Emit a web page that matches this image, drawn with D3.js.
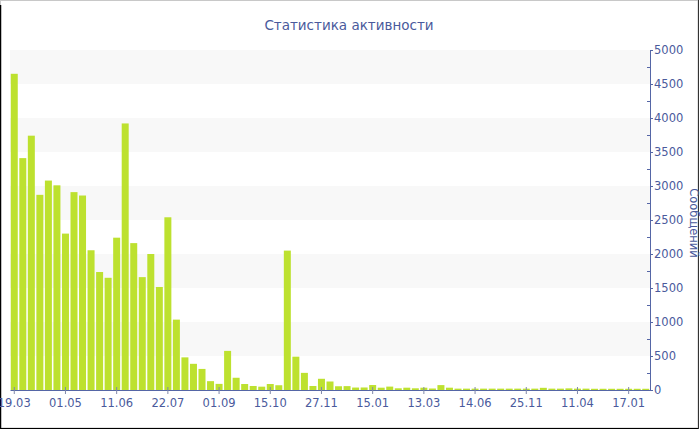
<!DOCTYPE html>
<html>
<head>
<meta charset="utf-8">
<script src="https://cdn.jsdelivr.net/npm/d3@7/dist/d3.min.js"></script>
<style>
  html, body { margin: 0; padding: 0; background: #fff; }
  svg { display: block; }
  text { font-family: "DejaVu Sans", Verdana, sans-serif; }
</style>
</head>
<body>
<svg id="chart" width="700" height="430"></svg>
<script>
const title = "Статистика активности";
const yTitle = "Сообщений";
const tickLabels = ["19.03", "01.05", "11.06", "22.07", "01.09", "15.10", "27.11",
                    "15.01", "13.03", "14.06", "25.11", "11.04", "17.01"];
const tickEvery = 6;
const values = [
  4650, 3410, 3740, 2870, 3080, 3010, 2300, 2910, 2860, 2055,
  1735, 1650, 2240, 3920, 2160, 1660, 2000, 1515, 2540, 1035,
  480, 385, 310, 130, 90, 575, 180, 88, 59, 49,
  88, 70, 2050, 490, 252, 59, 165, 125, 55, 57,
  36, 37, 73, 34, 50, 25, 34, 25, 34, 22,
  72, 34, 20, 20, 20, 20, 20, 20, 20, 20,
  20, 20, 32, 20, 20, 24, 20, 20, 18, 18,
  18, 18, 18, 18, 18
];
const yTicks = [0, 500, 1000, 1500, 2000, 2500, 3000, 3500, 4000, 4500, 5000];
const yMinorTicks = [250, 750, 1250, 1750, 2250, 2750, 3250, 3750, 4250, 4750];

const svg = d3.select("#chart");
const mLeft = 10, mRight = 650, mTop = 50, mBottom = 390;
const axisColor = "#5566a6";
const textColor = "#4a5a9c";

// frame
svg.append("rect").attr("x", 0.5).attr("y", 0.5).attr("width", 697.5).attr("height", 427.5)
  .attr("fill", "#fff").attr("stroke", "#c8c8c8");
svg.append("line").attr("x1", 0.5).attr("x2", 0.5).attr("y1", 5).attr("y2", 429).attr("stroke", "#000").attr("stroke-width", 1.5);
svg.append("line").attr("x1", 0).attr("x2", 699).attr("y1", 428.5).attr("y2", 428.5).attr("stroke", "#000");
svg.append("line").attr("x1", 698.5).attr("x2", 698.5).attr("y1", 0).attr("y2", 429).attr("stroke", "#333");

const idx = values.map((d, i) => i);
const x = d3.scaleBand().domain(idx).range([mLeft, mRight]).paddingInner(0.18).paddingOuter(0.09);
const y = d3.scaleLinear().domain([0, 5000]).range([mBottom, mTop]);

// bands
const bandStarts = [500, 1500, 2500, 3500, 4500];
svg.append("g").selectAll("rect").data(bandStarts).join("rect")
  .attr("x", mLeft).attr("width", mRight - mLeft)
  .attr("y", d => y(d + 500)).attr("height", d => y(d) - y(d + 500))
  .attr("fill", "#f8f8f8");

// bars
svg.append("g").selectAll("rect").data(values).join("rect")
  .attr("x", (d, i) => x(i))
  .attr("width", x.bandwidth())
  .attr("y", d => y(d))
  .attr("height", d => y(0) - y(d))
  .attr("fill", "#bde12f");

// x axis
const tickIdx = tickLabels.map((t, k) => k * tickEvery);
const xAxis = d3.axisBottom(x).tickValues(tickIdx)
  .tickFormat(i => tickLabels[i / tickEvery]).tickSize(4).tickSizeOuter(0);
const gx = svg.append("g").attr("transform", `translate(0,${mBottom})`).call(xAxis);
gx.select(".domain").attr("stroke", axisColor);
gx.selectAll(".tick line").attr("stroke", "#8088aa").attr("y1", -3);
gx.selectAll(".tick text").attr("fill", textColor).attr("font-size", 11.5)
  .attr("font-family", "DejaVu Sans").attr("dy", "0.9em");

// y axis right
const yAxis = d3.axisRight(y).tickValues(yTicks).tickFormat(d3.format("d")).tickSize(3).tickSizeOuter(0).tickPadding(1);
const gy = svg.append("g").attr("transform", `translate(${mRight},0)`).call(yAxis);
gy.select(".domain").attr("stroke", axisColor);
gy.selectAll(".tick line").attr("stroke", axisColor);
gy.selectAll(".tick text").attr("fill", textColor).attr("font-size", 11.5)
  .attr("font-family", "DejaVu Sans");
gy.append("g").selectAll("line").data(yMinorTicks).join("line")
  .attr("x1", -3).attr("x2", 0).attr("y1", d => y(d) + 0.5).attr("y2", d => y(d) + 0.5)
  .attr("stroke", axisColor);

// titles
svg.append("text").attr("x", 349).attr("y", 30).attr("text-anchor", "middle")
  .attr("fill", textColor).attr("font-size", 13.5).text(title);
svg.append("text").attr("transform", `translate(690,223) rotate(90)`).attr("text-anchor", "middle")
  .attr("fill", textColor).attr("font-size", 11.5).text(yTitle);
</script>
</body>
</html>
